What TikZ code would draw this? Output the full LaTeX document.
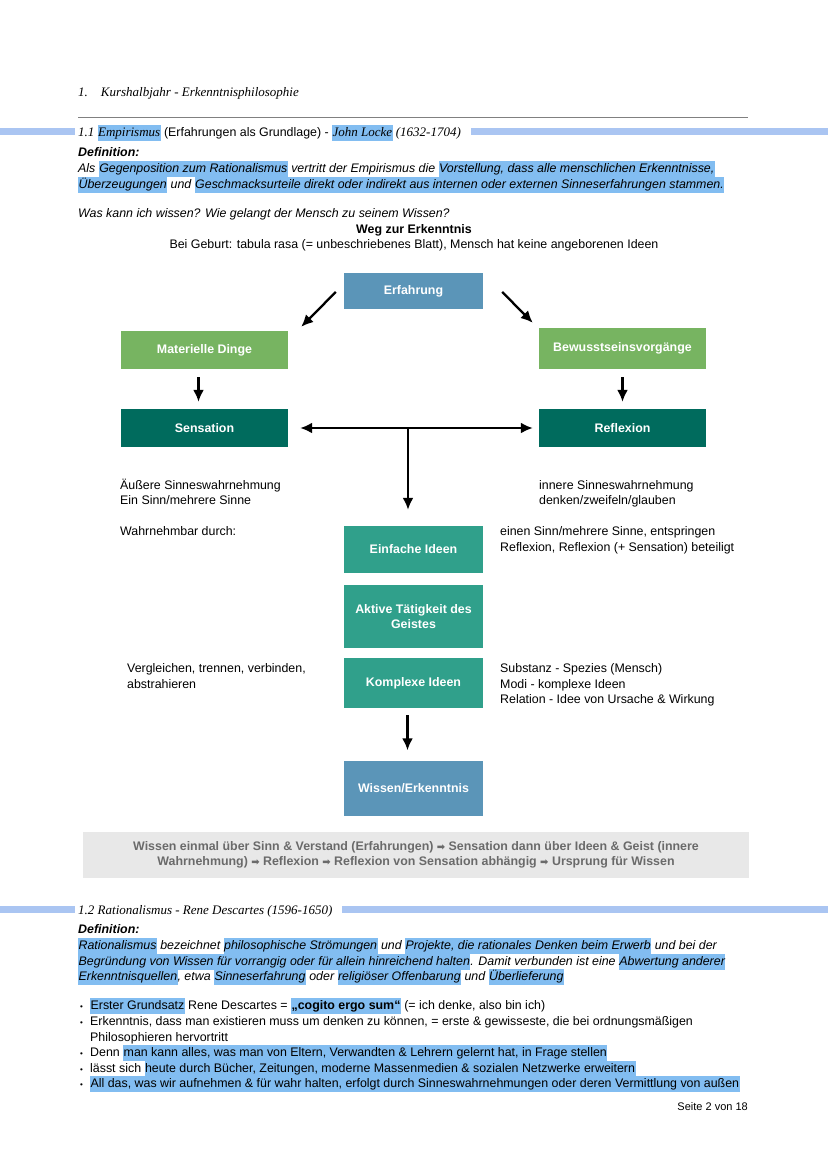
\documentclass[tikz,border=0pt]{standalone}
\usepackage{fontspec}
\setmainfont{Liberation Sans}
\newfontfamily\handfont{Liberation Serif}
\newfontfamily\symfont{DejaVu Sans}
\usetikzlibrary{arrows.meta}

\definecolor{erfblue}{HTML}{5B95B8}
\definecolor{matgreen}{HTML}{77B461}
\definecolor{darkteal}{HTML}{006B5D}
\definecolor{midteal}{HTML}{30A08B}
\definecolor{hlblue}{HTML}{82BDF1}
\definecolor{barblue}{HTML}{AAC5F2}
\definecolor{boxgrey}{HTML}{E8E8E8}
\definecolor{sumgrey}{HTML}{6A6A6A}

\newcommand\fs{\fontsize{12.4}{15}\selectfont}
\newcommand\hl[1]{{\setlength{\fboxsep}{0.4pt}\colorbox{hlblue}{\strut #1}}}
\newcommand\hd{\handfont\itshape\fontsize{13}{15}\selectfont}
\newcommand\ra{{\symfont\fontsize{10}{12}\selectfont ➡}}

\tikzset{
  txt/.style={anchor=base west, inner sep=0pt, font=\fs},
  box/.style={minimum width=139pt, inner sep=2pt, text=white, align=center,
    font=\fs\bfseries},
  arr/.style={>={Latex[length=12pt,width=11pt]}, ->, line width=2.3pt},
  bar/.style={fill=barblue, draw=none}
}

\begin{document}
\begin{tikzpicture}[x=1pt, y=-1pt]

    \useasboundingbox[fill=white] (0,0) rectangle (828,1171);

    % Page title
    \node[txt, font=\hd] (title) at (78,96) {1.\quad Kurshalbjahr - Erkenntnisphilosophie};
    \draw[gray, line width=0.6pt] (78,117) -- (748,117);

    % Section 1.1
    \fill[bar] (0,128) rectangle (75,135);
    \fill[bar] (471,128) rectangle (828,135);
    \node[txt] (sec1) at (78,136) {{\hd 1.1 \hl{Empirismus}} (Erfahrungen als Grundlage) - {\hd\hl{John Locke} (1632-1704)}};
    \node[txt, font=\fs\bfseries\itshape] (def1) at (78,156) {Definition:};
    \node[txt, font=\fs\itshape] (def1a) at (78,172) {Als \hl{Gegenposition zum Rationalismus} vertritt der Empirismus die \hl{Vorstellung, dass alle menschlichen Erkenntnisse,}};
    \node[txt, font=\fs\itshape] (def1b) at (78,188) {\hl{Überzeugungen} und \hl{Geschmacksurteile direkt oder indirekt aus internen oder externen Sinneserfahrungen stammen.}};

    \node[txt, font=\fs\itshape] (frage) at (78,217) {Was kann ich wissen? Wie gelangt der Mensch zu seinem Wissen?};
    \node[inner sep=0pt, anchor=base, font=\fs\bfseries] (weg) at (414,233) {Weg zur Erkenntnis};
    \node[inner sep=0pt, anchor=base, font=\fs] (geburt) at (414,248) {Bei Geburt: tabula rasa (= unbeschriebenes Blatt), Mensch hat keine angeborenen Ideen};

    % Boxes
    \node[box, fill=erfblue, minimum height=36pt] (erf) at (413.5,291) {Erfahrung};
    \node[box, fill=matgreen, minimum width=167pt, minimum height=38pt] (mat) at (204.5,350) {Materielle Dinge};
    \node[box, fill=matgreen, minimum width=167pt, minimum height=41pt] (bew) at (622.5,348.5) {Bewusstseinsvorgänge};
    \node[box, fill=darkteal, minimum width=167pt, minimum height=38pt] (sen) at (204.5,428) {Sensation};
    \node[box, fill=darkteal, minimum width=167pt, minimum height=38pt] (ref) at (622.5,428) {Reflexion};
    \node[box, fill=midteal, minimum height=47pt] (einf) at (413.5,549.5) {Einfache Ideen};
    \node[box, fill=midteal, minimum height=63pt] (akt) at (413.5,616.5) {Aktive Tätigkeit des\\Geistes};
    \node[box, fill=midteal, minimum height=50pt] (kompl) at (413.5,683) {Komplexe Ideen};
    \node[box, fill=erfblue, minimum height=55pt] (wiss) at (413.5,788) {Wissen/Erkenntnis};

    % Arrows
    \draw[arr] ([shift={(-8,1)}]erf.west) -- ([shift={(13,-4)}]mat.north east);
    \draw[arr] ([shift={(19,1)}]erf.east) -- ([shift={(-6,-5)}]bew.north west);
    \draw[arr, shorten <=8pt, shorten >=7pt] ([xshift=-6pt]mat.south) -- ([xshift=-6pt]sen.north);
    \draw[arr, shorten <=8pt, shorten >=7pt] (bew.south) -- (ref.north);
    \draw[arr, <->, shorten <=12pt, shorten >=6pt] (sen.east) -- (ref.west);
    \coordinate (split) at (408,428);
    \draw[arr, shorten >=16pt] (split) -- (split |- einf.north);
    \draw[arr, shorten <=7pt, shorten >=10pt] ([xshift=-6pt]kompl.south) -- ([xshift=-6pt]wiss.north);

    % Notes beside the boxes
    \node[txt] (aussen) at (120,489) {Äußere Sinneswahrnehmung};
    \node[txt] (aussen2) at (120,504) {Ein Sinn/mehrere Sinne};
    \node[txt] (innen) at (539,489) {innere Sinneswahrnehmung};
    \node[txt] (innen2) at (539,504) {denken/zweifeln/glauben};
    \node[txt] (wahrn) at (120,535) {Wahrnehmbar durch:};
    \node[txt] (sinn) at (500,535) {einen Sinn/mehrere Sinne, entspringen};
    \node[txt] (sinn2) at (500,551) {Reflexion, Reflexion (+ Sensation) beteiligt};
    \node[txt] (vergl) at (127,672) {Vergleichen, trennen, verbinden,};
    \node[txt] (vergl2) at (127,688) {abstrahieren};
    \node[txt] (subst) at (500,672) {Substanz - Spezies (Mensch)};
    \node[txt] (modi) at (500,688) {Modi - komplexe Ideen};
    \node[txt] (relat) at (500,703) {Relation - Idee von Ursache \& Wirkung};

    % Summary
    \node[fill=boxgrey, minimum width=666pt, minimum height=46pt, inner sep=0pt, align=center,
      text=sumgrey, font=\fs\bfseries] (summe) at (416,855)
      {Wissen einmal über Sinn \& Verstand (Erfahrungen) \ra{} Sensation dann über Ideen \& Geist (innere\\
       Wahrnehmung) \ra{} Reflexion \ra{} Reflexion von Sensation abhängig \ra{} Ursprung für Wissen};

    % Section 1.2
    \fill[bar] (0,906) rectangle (75,913);
    \fill[bar] (342,906) rectangle (828,913);
    \node[txt, font=\hd] (sec2) at (78,914) {1.2 Rationalismus - Rene Descartes (1596-1650)};
    \node[txt, font=\fs\bfseries\itshape] (def2) at (78,933) {Definition:};
    \node[txt, font=\fs\itshape] (def2a) at (78,949) {\hl{Rationalismus} bezeichnet \hl{philosophische Strömungen} und \hl{Projekte, die rationales Denken beim Erwerb} und bei der};
    \node[txt, font=\fs\itshape] (def2b) at (78,965) {\hl{Begründung von Wissen für vorrangig oder für allein hinreichend halten}. Damit verbunden ist eine \hl{Abwertung anderer}};
    \node[txt, font=\fs\itshape] (def2c) at (78,980) {\hl{Erkenntnisquellen}, etwa \hl{Sinneserfahrung} oder \hl{religiöser Offenbarung} und \hl{Überlieferung}};

    % Bullets
    \foreach \yy in {1009,1025,1056,1072,1087}
      \node[txt, font=\fontsize{8}{10}\selectfont] at (80,\yy) {•};
    \node[txt] (b1) at (90,1009) {\hl{Erster Grundsatz} Rene Descartes = \hl{\bfseries „cogito ergo sum“} (= ich denke, also bin ich)};
    \node[txt] (b2) at (90,1025) {Erkenntnis, dass man existieren muss um denken zu können, = erste \& gewisseste, die bei ordnungsmäßigen};
    \node[txt] (b2b) at (90,1041) {Philosophieren hervortritt};
    \node[txt] (b3) at (90,1056) {Denn \hl{man kann alles, was man von Eltern, Verwandten \& Lehrern gelernt hat, in Frage stellen}};
    \node[txt] (b4) at (90,1072) {lässt sich \hl{heute durch Bücher, Zeitungen, moderne Massenmedien \& sozialen Netzwerke erweitern}};
    \node[txt] (b5) at (90,1087) {\hl{All das, was wir aufnehmen \& für wahr halten, erfolgt durch Sinneswahrnehmungen oder deren Vermittlung von außen}};

    \node[inner sep=0pt, anchor=base east, font=\fontsize{11}{13}\selectfont] (seite) at (748,1110) {Seite 2 von 18};

\end{tikzpicture}
\end{document}
